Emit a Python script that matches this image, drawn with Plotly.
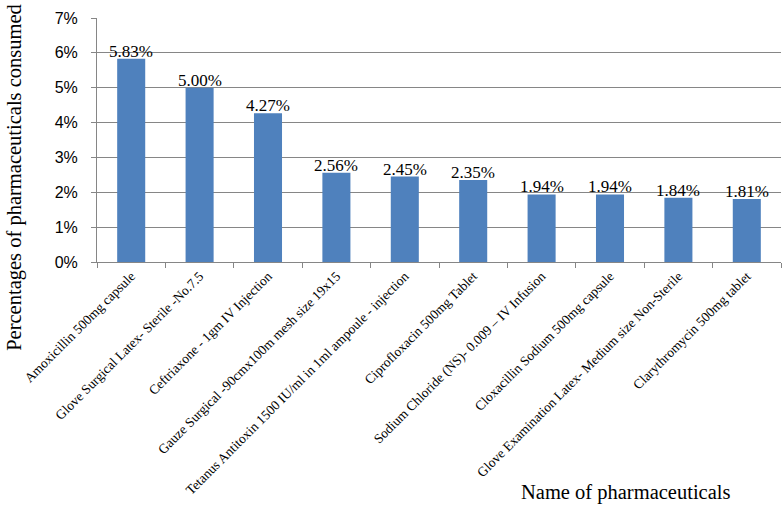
import plotly.graph_objects as go

categories = [
    "Amoxicillin 500mg capsule",
    "Glove Surgical Latex- Sterile -No.7.5",
    "Ceftriaxone - 1gm IV Injection",
    "Gauze Surgical -90cmx100m mesh size 19x15",
    "Tetanus Antitoxin 1500 IU/ml in 1ml ampoule - injection",
    "Ciprofloxacin 500mg Tablet",
    "Sodium Chloride (NS)- 0.009 – IV Infusion",
    "Cloxacillin Sodium 500mg capsule",
    "Glove Examination Latex- Medium size Non-Sterile",
    "Clarythromycin 500mg tablet",
]
values = [0.0583, 0.0500, 0.0427, 0.0256, 0.0245, 0.0235, 0.0194, 0.0194, 0.0184, 0.0181]
labels = ["5.83%", "5.00%", "4.27%", "2.56%", "2.45%", "2.35%", "1.94%", "1.94%", "1.84%", "1.81%"]
y_ticks = [0, 0.01, 0.02, 0.03, 0.04, 0.05, 0.06, 0.07]

serif = "Liberation Serif, Times New Roman, serif"
sans = "Liberation Sans, Arial, sans-serif"

fig = go.Figure(go.Bar(
    x=categories, y=values,
    marker=dict(color="#4F81BD", line=dict(width=0)),
    hoverinfo="x+y",
))

annotations = [
    dict(x=c, y=v, xref="x", yref="y", text=t, showarrow=False,
         yanchor="bottom", xanchor="center", yshift=-4,
         font=dict(family=serif, size=17, color="black"))
    for c, v, t in zip(categories, values, labels)
]
annotations.append(dict(
    text="Name of pharmaceuticals", xref="paper", yref="paper",
    x=0.772, y=-0.943, xanchor="center", yanchor="middle", showarrow=False,
    font=dict(family=serif, size=20.5, color="black"),
))
annotations.append(dict(
    text="Percentages of pharmaceuticals consumed", xref="paper", yref="paper",
    x=-0.121, y=0.346, xanchor="center", yanchor="middle", showarrow=False,
    textangle=-90, font=dict(family=serif, size=20.5, color="black"),
))

fig.update_layout(
    width=782, height=507,
    margin=dict(l=97, r=1, t=18, b=245, autoexpand=False),
    paper_bgcolor="white", plot_bgcolor="white",
    bargap=0.59, showlegend=False,
    xaxis=dict(
        tickangle=-45, tickfont=dict(family=serif, size=13.5, color="black"),
        showline=True, linecolor="#868686", linewidth=1,
        ticks="outside", tickson="boundaries", ticklen=5, tickcolor="#868686",
        showgrid=False, automargin=False,
    ),
    yaxis=dict(
        range=[0, 0.07], tickvals=y_ticks, tickformat=".0%",
        tickfont=dict(family=sans, size=16, color="black"),
        showline=True, linecolor="#868686", linewidth=1,
        ticks="outside", ticklen=5, tickcolor="#868686", ticklabelstandoff=10,
        showgrid=True, gridcolor="#868686", gridwidth=1,
        zeroline=False, automargin=False,
    ),
    annotations=annotations,
)

fig.write_html(
    "out.html",
    config={"displayModeBar": False},
    post_script="document.body.style.margin='0';document.body.style.overflow='hidden';",
)
